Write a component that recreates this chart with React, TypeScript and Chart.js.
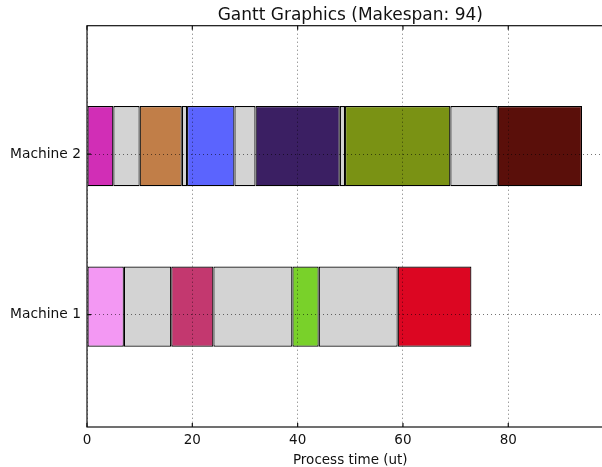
import { useEffect, useRef } from "react";
import { Chart, registerables } from "chart.js";

Chart.register(...registerables);

// ---- data ----
const titleText = "Gantt Graphics (Makespan: 94)";
const xAxisLabel = "Process time (ut)";
const machineNames = ["Machine 1", "Machine 2"];
const machineTickValues = [10, 20];
const laneStarts = [8, 18];
const laneHeight = 5;
const xTickValues = [0, 20, 40, 60, 80, 100];

const IDLE = "#d3d3d3";

const m1Starts = [0, 7, 16, 24, 39, 44, 59];
const m1Ends = [7, 16, 24, 39, 44, 59, 73];
const m1Colors = ["#f398f3", IDLE, "#c3386f", IDLE, "#79d12a", IDLE, "#dc0622"];

const m2Starts = [0, 5, 10, 18, 19, 28, 32, 48, 49, 69, 78];
const m2Ends = [5, 10, 18, 19, 28, 32, 48, 49, 69, 78, 94];
const m2Colors = ["#d12eb6", IDLE, "#c17e48", IDLE, "#5b64fe", IDLE, "#3b1f63", IDLE, "#7a9214", IDLE, "#5a0f0a"];

const FONT = "'DejaVu Sans', sans-serif";

const framePlugin = {
  id: "frame",
  afterDraw(chart: any) {
    const { ctx, chartArea: a, scales } = chart;
    const x = scales.x;
    const y = scales.y;
    ctx.save();
    ctx.strokeStyle = "#111";
    ctx.lineWidth = 1.2;
    ctx.beginPath();
    for (const v of xTickValues) {
      const px = x.getPixelForValue(v);
      ctx.moveTo(px, a.top);
      ctx.lineTo(px, a.top + 4);
      ctx.moveTo(px, a.bottom);
      ctx.lineTo(px, a.bottom - 4);
    }
    for (const v of machineTickValues) {
      const py = y.getPixelForValue(v);
      ctx.moveTo(a.left, py);
      ctx.lineTo(a.left + 4, py);
      ctx.moveTo(a.right, py);
      ctx.lineTo(a.right - 4, py);
    }
    ctx.stroke();
    ctx.strokeRect(a.left, a.top, a.right - a.left, a.bottom - a.top);
    ctx.restore();
  },
};

function lane(i: number, starts: number[], ends: number[]) {
  const yc = laneStarts[i] + laneHeight / 2;
  return starts.map((s, k) => ({ x: [s, ends[k]], y: yc }));
}

export default function App() {
  const ref = useRef<HTMLCanvasElement | null>(null);

  useEffect(() => {
    if (!ref.current) return;
    const common = {
      borderColor: "#000",
      borderWidth: 1.2,
      borderSkipped: false,
      categoryPercentage: 1,
      barPercentage: laneHeight / (machineTickValues[1] - machineTickValues[0]),
      grouped: false,
    };
    const chart = new Chart(ref.current, {
      type: "bar",
      data: {
        datasets: [
          { ...common, label: machineNames[0], data: lane(0, m1Starts, m1Ends) as any, backgroundColor: m1Colors },
          { ...common, label: machineNames[1], data: lane(1, m2Starts, m2Ends) as any, backgroundColor: m2Colors },
        ],
      },
      options: {
        indexAxis: "y",
        responsive: false,
        animation: false,
        devicePixelRatio: 1,
        layout: { padding: { left: 0, right: 26.4, top: 0, bottom: 0 } },
        plugins: {
          legend: { display: false },
          tooltip: { enabled: false },
          title: {
            display: true,
            text: titleText,
            fullSize: false,
            color: "#111",
            font: { family: FONT, size: 17, weight: "normal", lineHeight: 1.2 },
            padding: { top: 5, bottom: 0.3 },
          },
        },
        scales: {
          x: {
            type: "linear",
            min: 0,
            max: 100,
            offset: false,
            afterBuildTicks: (s: any) => {
              s.ticks = xTickValues.map((v) => ({ value: v }));
            },
            afterFit: (s: any) => {
              s.height = 40;
            },
            grid: { display: true, drawTicks: false, offset: false, color: "rgba(0,0,0,0.55)", lineWidth: 1, z: 1 },
            border: { display: false, dash: [1, 3] },
            ticks: { color: "#111", font: { family: FONT, size: 13.5 }, padding: 5, maxRotation: 0 },
            title: {
              display: true,
              text: xAxisLabel,
              color: "#111",
              font: { family: FONT, size: 13.5, lineHeight: 1 },
              padding: { top: 0, bottom: 0 },
            },
          },
          y: {
            type: "linear",
            min: 3,
            max: 28,
            offset: false,
            afterBuildTicks: (s: any) => {
              s.ticks = machineTickValues.map((v) => ({ value: v }));
            },
            afterFit: (s: any) => {
              s.width = 87;
            },
            grid: { display: true, drawTicks: false, offset: false, color: "rgba(0,0,0,0.55)", lineWidth: 1, z: 1 },
            border: { display: false, dash: [1, 3] },
            ticks: {
              color: "#111",
              font: { family: FONT, size: 13.8 },
              padding: 6,
              autoSkip: false,
              callback: (v: any) => machineNames[machineTickValues.indexOf(Number(v))] ?? "",
            },
          },
        },
      },
      plugins: [framePlugin],
    } as any);
    return () => chart.destroy();
  }, []);

  return (
    <div style={{ position: "absolute", left: 0, top: 0, width: 602, height: 467, overflow: "hidden", background: "#fff" }}>
      <canvas ref={ref} width={640} height={467} style={{ display: "block" }} />
    </div>
  );
}
